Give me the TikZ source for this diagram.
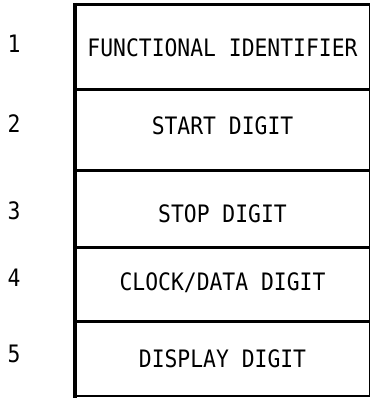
\documentclass[tikz,border=0pt]{standalone}
\usepackage{fontspec}
\newfontfamily\letterfont[FakeStretch=0.89]{DejaVu Sans Mono}
\tikzset{
  field/.style={anchor=base, inner sep=0pt, font=\letterfont\fontsize{24}{24}\selectfont},
  rownum/.style={anchor=base, inner sep=0pt, font=\letterfont\fontsize{24}{24}\selectfont},
  heavy/.style={line width=4pt},
  divider/.style={line width=3pt},
  light/.style={line width=1.6pt},
}
\begin{document}
\begin{tikzpicture}[x=1pt, y=-1pt]
  \useasboundingbox (0,0) rectangle (371,398);
  % frame corners
  \coordinate (tl) at (75,5);
  \coordinate (tr) at (369.5,5);
  \coordinate (bl) at (75,396);
  \coordinate (br) at (369.5,396);
  % outline of the register
  \draw[divider] (tl) -- (tr);
  \draw[light] (tr) -- (br);
  \draw[light] (bl) -- (br);
  \draw[heavy] (75,3) -- (75,397.5);
  % dividers between the fields
  \foreach \y/\n in {90/a,170/b,247/c,321/d}{
    \coordinate (l\n) at (75,\y);
    \coordinate (r\n) at (369.5,\y);
    \draw[divider] (l\n) -- (r\n);
  }
  % field names
  \node[field] (f1) at (222.5,57)  {FUNCTIONAL IDENTIFIER};
  \node[field] (f2) at (222.5,135) {START DIGIT};
  \node[field] (f3) at (222.5,222.5) {STOP DIGIT};
  \node[field] (f4) at (222.5,290) {CLOCK/DATA DIGIT};
  \node[field] (f5) at (222.5,367) {DISPLAY DIGIT};
  % field numbers
  \node[rownum] (n1) at (14,53)  {1};
  \node[rownum] (n2) at (14,133) {2};
  \node[rownum] (n3) at (14,219) {3};
  \node[rownum] (n4) at (14,286) {4};
  \node[rownum] (n5) at (14,362) {5};
\end{tikzpicture}
\end{document}
